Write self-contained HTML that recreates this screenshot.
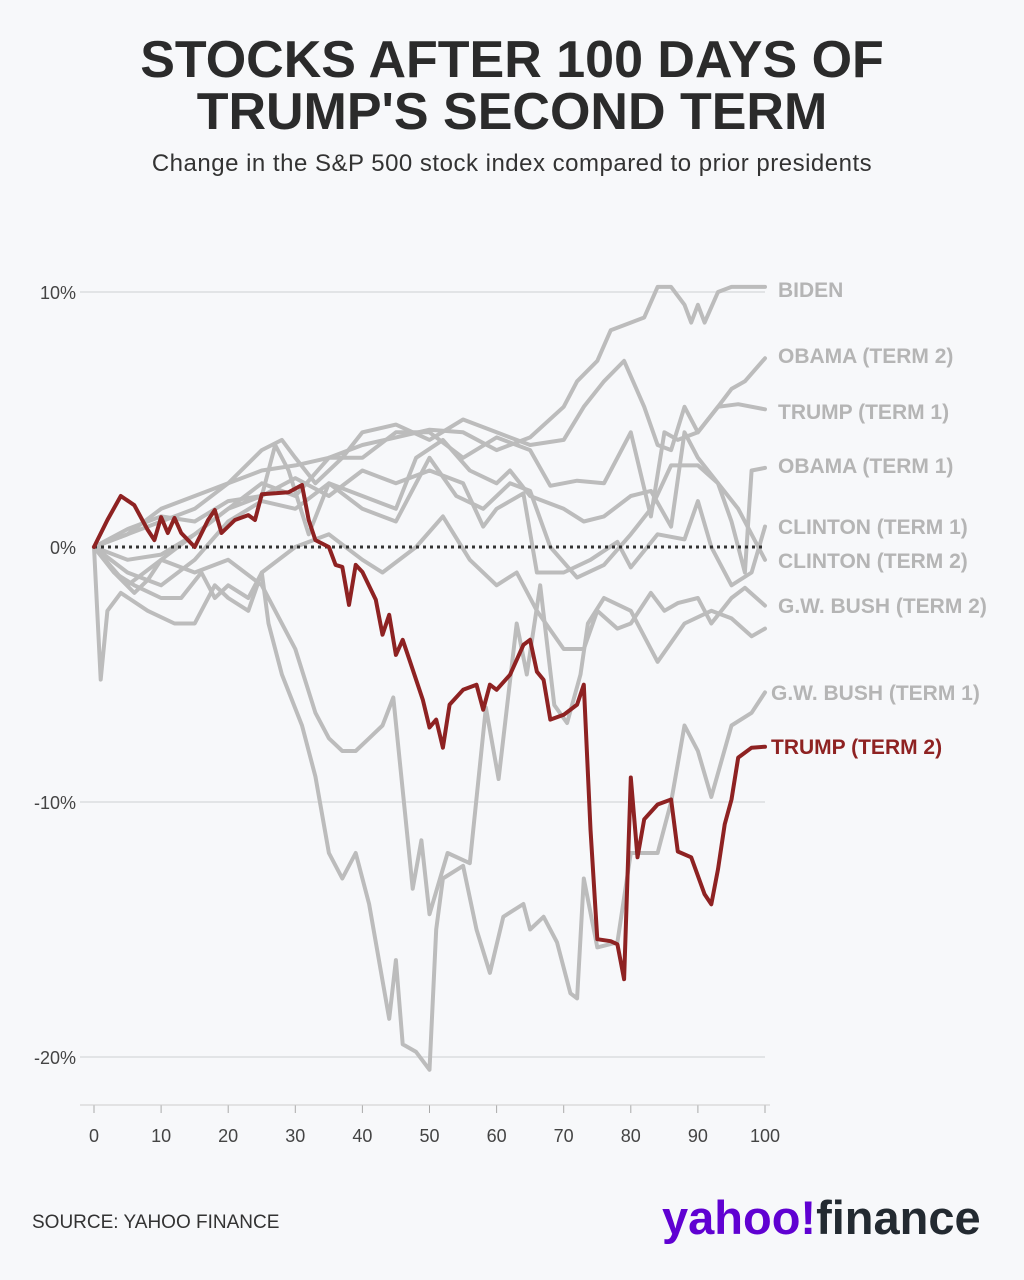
<!DOCTYPE html>
<html><head><meta charset="utf-8"><style>
body{margin:0;background:#f7f8fa;font-family:"Liberation Sans",sans-serif;}
#wrap{position:relative;width:1024px;height:1280px;overflow:hidden;background:#f7f8fa;}
h1{position:absolute;top:34px;left:0;width:1024px;margin:0;text-align:center;font-size:52px;line-height:52px;font-weight:bold;color:#2b2b2b;letter-spacing:0px;}
.sub{position:absolute;top:150px;left:0;width:1024px;text-align:center;font-size:24px;color:#333;letter-spacing:0.5px;}
.src{position:absolute;top:1212px;left:32px;font-size:19px;color:#333;}
.logo{position:absolute;top:1190px;left:662px;font-size:47px;font-weight:bold;color:#6001d2;letter-spacing:0px;}
.logo span{color:#232a31;}
</style></head><body>
<div id="wrap">
<h1>STOCKS AFTER 100 DAYS OF<br>TRUMP'S SECOND TERM</h1>
<div class="sub">Change in the S&amp;P 500 stock index compared to prior presidents</div>
<svg id="chart" width="1024" height="1280" style="position:absolute;left:0;top:0"></svg>
<div class="src">SOURCE: YAHOO FINANCE</div>
<div class="logo">yahoo!<span>finance</span></div>
</div>
<script>
const xTicks=[0,10,20,30,40,50,60,70,80,90,100];
const yTicks=[10,0,-10,-20];
const seriesNames=["BIDEN","OBAMA (TERM 2)","TRUMP (TERM 1)","OBAMA (TERM 1)","CLINTON (TERM 1)","CLINTON (TERM 2)","G.W. BUSH (TERM 2)","G.W. BUSH (TERM 1)","UNLABELED","TRUMP (TERM 2)"];
const bidenD=[0,5,10,15,20,25,30,35,40,45,50,55,60,65,70,72,75,77,80,82,84,86,88,89,90,91,93,95,100];
const bidenV=[0,0.5,1,1.5,2.5,3,3.2,3.5,4,4.3,4.6,4.5,3.8,4.3,5.5,6.5,7.3,8.5,8.8,9,10.2,10.2,9.5,8.8,9.5,8.8,10,10.2,10.2];
const obama2D=[0,5,10,15,20,25,28,30,33,37,40,45,50,55,60,65,70,73,76,79,82,84,86,88,90,93,95,97,100];
const obama2V=[0,0.5,1.5,2,2.5,3.8,4.2,3.5,2.5,3.5,4.5,4.8,4.2,5,4.5,4,4.2,5.5,6.5,7.3,5.5,4,3.8,5.5,4.5,5.5,6.2,6.5,7.4];
const trump1D=[0,5,10,15,20,25,30,35,40,45,50,55,60,65,68,72,76,80,83,85,87,90,93,96,100];
const trump1V=[0,-0.5,-0.3,0.5,1.5,2.5,2,3.5,3.5,4.5,4.5,3.5,4.3,3.8,2.4,2.6,2.5,4.5,1.2,4.5,4.2,4.5,5.5,5.6,5.4];
const obama1D=[0,3,6,8,10,15,20,25,27,29,32,35,40,45,48,52,56,60,62,65,70,73,76,80,83,86,88,90,93,95,97,98,100];
const obama1V=[0,-1,-1.8,-1.3,-0.5,0.5,1.5,2,4,3,0.5,2.5,2,1.5,3.5,4.2,3,2.5,3,2,1.5,1,1.2,2,2.2,0.8,4.5,3.5,2.5,1,-1,3,3.1];
const clinton1D=[0,5,10,15,20,25,30,35,40,45,50,55,58,60,64,66,70,74,78,80,84,88,90,92,95,98,100];
const clinton1V=[0,0.7,1.2,1,1.8,2,2.7,2,3,2.5,3,2.5,0.8,1.5,2.1,-1,-1,-0.5,0.2,-0.8,0.5,0.3,1.8,0,-1.5,-1,0.8];
const clinton2D=[0,5,10,15,20,25,30,35,40,45,50,54,58,62,65,68,72,76,80,83,86,90,93,96,100];
const clinton2V=[0,-1,-1.5,-0.5,1,1.8,1.5,2.5,1.5,1,3.5,2,1.5,2.5,2.2,0,-1.2,-0.7,0.5,1.5,3.2,3.2,2.5,1.5,-0.5];
const gwb2D=[0,3,6,10,13,16,18,20,23,25,30,35,40,43,48,52,56,60,63,66,70,73,75,78,80,83,85,87,90,92,95,97,100];
const gwb2V=[0,-1,-1.5,-2,-2,-1,-2,-1.5,-2,-1,0,0.5,-0.5,-1,0,1.2,-0.5,-1.5,-1,-2.5,-4,-4,-2.5,-3.2,-3,-1.8,-2.5,-2.2,-2,-3,-2,-1.6,-2.3];
const gwb1D=[0,1,2,4,8,12,15,18,20,23,25,26,28,31,33,35,37,39,41,43,44,45,46,48,50,51,52,55,57,59,61,64,65,67,69,71,72,73,75,78,80,84,86,88,90,92,95,98,100];
const gwb1V=[0,-5.2,-2.5,-1.8,-2.5,-3,-3,-1.5,-2,-2.5,-1,-3,-5,-7,-9,-12,-13,-12,-14,-17,-18.5,-16.2,-19.5,-19.8,-20.5,-15,-13,-12.5,-15,-16.7,-14.5,-14,-15,-14.5,-15.5,-17.5,-17.7,-13,-15.7,-15.5,-12,-12,-10,-7,-8,-9.8,-7,-6.5,-5.7];
const otherD=[0,5,10,15,20,25,30,33,35,37,39,41,43,44.6,47.5,48.8,50,52.7,56,58.4,60.3,63,64.5,66.5,68.6,70.5,72.5,73.6,76,80,84,88,92,95,98,100];
const otherV=[0,-1.5,-0.5,-1,-0.5,-1.5,-4,-6.5,-7.5,-8,-8,-7.5,-7,-5.9,-13.4,-11.5,-14.4,-12,-12.4,-6.3,-9.1,-3,-5,-1.5,-6.2,-6.9,-5,-3,-2,-2.5,-4.5,-3,-2.5,-2.8,-3.5,-3.2];
const trump2D=[0,2,4,6,8,9,10,11,12,13,15,17,18,19,21,23,24,25,29,31,32,33,35,36,37,38,39,40,42,43,44,45,46,47,49,50,51,52,53,55,57,58,59,60,62,64,65,66,67,68,70,72,73,74,75,77,78,79,80,81,82,84,86,87,89,91,92,93,94,95,96,98,100];
const trump2Y=[547,520,496,505,530,540,517,533,518,533,547,520,510,533,520,515,520,494,492,485,520,540,547,565,567,605,565,572,600,635,615,655,640,660,700,728,720,748,705,690,685,710,685,690,675,645,640,672,680,720,715,705,685,830,940,942,945,980,778,858,820,805,800,852,858,895,905,870,825,800,758,748,747];
const trump2V=trump2Y.map(y=>+((547-y)/25.55).toFixed(2));
const greyD=[bidenD,obama2D,trump1D,obama1D,clinton1D,clinton2D,gwb2D,gwb1D,otherD];
const greyV=[bidenV,obama2V,trump1V,obama1V,clinton1V,clinton2V,gwb2V,gwb1V,otherV];
const labelY=[289,355,411,465,526,560,605,692,null,746];

const X0=94,X1=765,Y10=292,Y0=547;
const xs=d=>X0+(X1-X0)*d/100;
const ys=v=>Y0-(Y0-Y10)*v/10;
const NS="http://www.w3.org/2000/svg";
const svg=document.getElementById('chart');
function mk(t,a){const e=document.createElementNS(NS,t);for(const k in a)e.setAttribute(k,a[k]);svg.appendChild(e);return e;}
yTicks.forEach(v=>{
  if(v!==0){const g=mk('line',{x1:80,x2:765,y1:ys(v),y2:ys(v),stroke:'#dcdde0','stroke-width':1.5});
  
  }
  const t=mk('text',{x:76,y:ys(v)+7,'text-anchor':'end','font-size':18,fill:'#444','font-family':'Liberation Sans, sans-serif'});
  t.textContent=v+'%';
  
  
});
xTicks.forEach(d=>{
  const l=mk('line',{x1:xs(d),x2:xs(d),y1:1105,y2:1113,stroke:'#aaa','stroke-width':1});
  
  
  const t=mk('text',{x:xs(d),y:1142,'text-anchor':'middle','font-size':18,fill:'#444','font-family':'Liberation Sans, sans-serif'});
  t.textContent=d;
  
  
});
const ax=mk('line',{x1:80,x2:770,y1:1105,y2:1105,stroke:'#ccc','stroke-width':1});


function path(D,V){return D.map((d,i)=>(i?'L':'M')+xs(d).toFixed(1)+','+ys(V[i]).toFixed(1)).join('');}
greyD.forEach((D,i)=>{
  const p=mk('path',{d:path(D,greyV[i]),fill:'none',stroke:'#bcbcbc','stroke-width':4,'stroke-linejoin':'round','stroke-linecap':'round'});
  
  
});
const z=mk('line',{x1:94,x2:765,y1:Y0,y2:Y0,stroke:'#333','stroke-width':3,'stroke-dasharray':'3,4'});


const tr=mk('path',{d:path(trump2D,trump2V),fill:'none',stroke:'#8e2222','stroke-width':4,'stroke-linejoin':'round','stroke-linecap':'round'});


seriesNames.forEach((n,i)=>{
  if(labelY[i]===null)return;
  const red=i===9;
  const t=mk('text',{x:(i===7||red)?771:778,y:labelY[i]+8,'font-size':21,'font-weight':'bold',fill:red?'#8e2222':'#b5b5b5','font-family':'Liberation Sans, sans-serif'});
  t.textContent=n;
  
  
});
</script>
</body></html>
